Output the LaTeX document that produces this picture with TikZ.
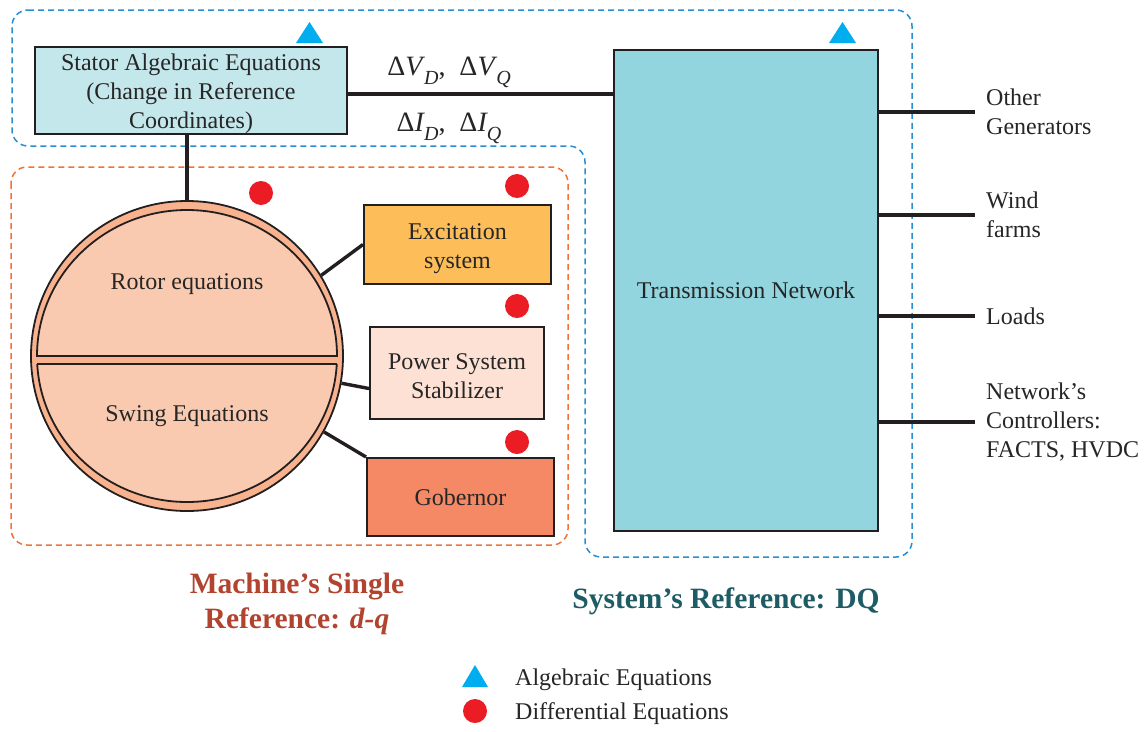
\documentclass[tikz,border=0pt]{standalone}
\usepackage{fontspec}
\setmainfont{Liberation Serif}
\usetikzlibrary{shapes.geometric,calc}
\definecolor{bluedash}{HTML}{2A8FD0}
\definecolor{orangedash}{HTML}{F0743A}
\definecolor{statorfill}{HTML}{C4E7EB}
\definecolor{tnfill}{HTML}{93D5DE}
\definecolor{outerfill}{HTML}{F8B38E}
\definecolor{innerfill}{HTML}{FACAB0}
\definecolor{excfill}{HTML}{FDBE5A}
\definecolor{pssfill}{HTML}{FDE1D4}
\definecolor{gobfill}{HTML}{F58865}
\definecolor{dotred}{HTML}{EC1C24}
\definecolor{algcyan}{HTML}{00AEEF}
\definecolor{machtitle}{HTML}{B2432F}
\definecolor{systitle}{HTML}{1D5C64}
\definecolor{lineblack}{HTML}{231F20}
\newcommand{\msz}{\fontsize{24}{29}\selectfont}
\newcommand{\mydsub}[2]{Δ\textit{#1}\kern-1pt\raisebox{-9pt}{\fontsize{20}{20}\selectfont\textit{#2}}}
\begin{document}
\begin{tikzpicture}[x=1pt,y=-1pt,
  box/.style={draw=lineblack, line width=2pt, inner sep=0pt, align=center, font=\msz, text=black!85},
  conn/.style={draw=lineblack, line width=3.4pt},
  dot/.style={circle, fill=dotred, minimum size=24pt, inner sep=0pt},
  lbl/.style={anchor=west, inner xsep=11pt, inner ysep=0pt, align=left, font=\msz, text=black!85},
  txt/.style={font=\msz, text=black!85, inner sep=0pt},
  dashline/.style={line width=1.5pt, dash pattern=on 6pt off 4pt, rounded corners=16pt}]
\useasboundingbox (0,0) rectangle (1148,731);
\fill[white] (0,0) rectangle (1148,731);

% dashed regions
\draw[dashline, bluedash] (12,10) -- (912,10) -- (912,557) -- (585,557) -- (585,146) -- (12,146) -- cycle;
\draw[dashline, orangedash] (11,167) rectangle (568,545);

% triangles
\fill[algcyan] (296,43) -- (323,43) -- (309.5,22) -- cycle;
\fill[algcyan] (829,43) -- (856,43) -- (842.5,22) -- cycle;

% main boxes
\node[box, fill=statorfill, minimum width=312pt, minimum height=83pt] (stator) at (191,90.5)
  {\rule{0pt}{24pt}Stator Algebraic Equations\\(Change in Reference\\Coordinates)};
\node[box, fill=tnfill, minimum width=264pt, minimum height=481pt] (tn) at (746,290.5) {Transmission Network};

% machine ellipse
\node[draw=lineblack, line width=1.8pt, ellipse, fill=outerfill, minimum width=312pt, minimum height=310pt, inner sep=0pt] (mach) at (187,356) {};
\begin{scope}
  \clip (0,150) rectangle (400,356);
  \draw[draw=lineblack, line width=1.8pt, fill=innerfill] (187,356) ellipse [x radius=150, y radius=146];
\end{scope}
\draw[lineblack, line width=1.8pt] (37,356) -- (337,356);
\begin{scope}
  \clip (0,364) rectangle (400,600);
  \draw[draw=lineblack, line width=1.8pt, fill=innerfill] (187,356) ellipse [x radius=150, y radius=146];
\end{scope}
\draw[lineblack, line width=1.8pt] (37.2,364) -- (336.8,364);
\node[txt] (rotor) at (187,284) {Rotor equations};
\node[txt] (swing) at (187,416) {Swing Equations};

% controller boxes
\node[box, fill=excfill, minimum width=187pt, minimum height=79pt] (exc) at (457.5,244.5) {\rule{0pt}{24pt}Excitation\\system};
\node[box, fill=pssfill, minimum width=174pt, minimum height=92pt] (pss) at (457,373) {\rule{0pt}{22pt}Power System\\Stabilizer};
\node[box, fill=gobfill, minimum width=187pt, minimum height=78pt] (gob) at (460.5,497) {Gobernor};

% connectors
\draw[conn] ($(stator.east)+(0,3.5)$) -- ($(stator.east -| tn.west)+(0,3.5)$);
\draw[conn] (stator.south -| mach.north) -- (mach.north);
\draw[conn] (mach.31) -- (exc.west);
\draw[conn] ($(exc.south)+(6,0)$) -- ($(exc.south)+(6,0)$ |- pss.north);
\draw[conn] (mach.-10) -- (pss.190);
\draw[conn] (mach.-29) -- (gob.north west);

% delta labels
\node[anchor=base, inner sep=0pt, font=\fontsize{28}{30}\selectfont, text=black!85] (dv) at (449,75) {\mydsub{V}{D},\ \ \mydsub{V}{Q}};
\node[anchor=base, inner sep=0pt, font=\fontsize{28}{30}\selectfont, text=black!85] (di) at (449,131) {\mydsub{I}{D},\ \ \mydsub{I}{Q}};

% right side
\node[lbl] (og) at (975,112) {Other\\Generators};
\node[lbl] (wf) at (975,215) {Wind\\farms};
\node[lbl] (ld) at (975,316) {Loads};
\node[lbl] (nc) at (975,422) {Network’s\\Controllers:\\FACTS, HVDC};
\draw[conn] (og.west -| tn.east) -- (og.west);
\draw[conn] (wf.west -| tn.east) -- (wf.west);
\draw[conn] (ld.west -| tn.east) -- (ld.west);
\draw[conn] (nc.west -| tn.east) -- (nc.west);

% red dots
\node[dot] (d1) at (261,193) {};
\node[dot] (d2) at (517,186) {};
\node[dot] (d3) at (517,306) {};
\node[dot] (d4) at (517,442) {};

% titles
\node[align=center, inner sep=0pt, font=\fontsize{29.5}{35}\selectfont\bfseries, text=machtitle] (mt) at (297,603.5) {Machine’s Single\\Reference: \textit{d-q}};
\node[inner sep=0pt, font=\fontsize{29.5}{35}\selectfont\bfseries, text=systitle] (st) at (726,601) {System’s Reference: DQ};

% legend
\fill[algcyan] (462,687) -- (488,687) -- (475,665) -- cycle;
\node[dot] (ld2) at (475,711) {};
\node[txt, anchor=west] (alg) at (515,680) {Algebraic Equations};
\node[txt, anchor=west] (dif) at (515,714) {Differential Equations};
\end{tikzpicture}
\end{document}
